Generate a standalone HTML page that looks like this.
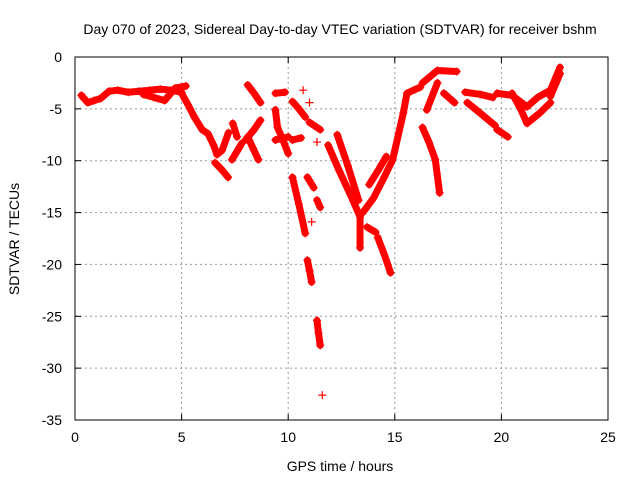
<!DOCTYPE html>
<html><head><meta charset="utf-8"><style>
body{margin:0;background:#fff}
svg{display:block;font-family:"Liberation Sans",sans-serif}
</style></head><body>
<svg id="chart" width="640" height="480">
<text x="340" y="34" text-anchor="middle" font-size="14">Day 070 of 2023, Sidereal Day-to-day VTEC variation (SDTVAR) for receiver bshm</text>
<text x="340" y="471" text-anchor="middle" font-size="14">GPS time / hours</text>
<text transform="translate(19,239) rotate(-90)" text-anchor="middle" font-size="14">SDTVAR / TECUs</text>
<g id="grid"></g>
<g id="ticks"></g>
<g id="marks"></g>
<rect x="75" y="57" width="533" height="363" fill="none" stroke="#000"/>
</svg>
<script>
const xTicks=[0,5,10,15,20,25];
const yTicks=[0,-5,-10,-15,-20,-25,-30,-35];
const trackHours=[
[0.3,0.6,0.9,1.2,1.6,2.0,2.5,3.0,3.5,4.0,4.5,5.0],
[3.2,3.7,4.2,4.7,5.2],
[5.0,5.3,5.6,5.96,6.24,6.5,6.66,6.9,7.2],
[6.57,6.9,7.18],
[7.36,7.6,7.83],
[7.4,7.6],
[8.1,8.35,8.6],
[8.7,8.4,8.0],
[8.1,8.4,8.7],
[9.4,9.85],
[9.4,9.5,9.75,10.0],
[9.4,10.0],
[10.2,10.5,10.8],
[10.9,11.0,11.1],
[11.35,11.42,11.5],
[11.6],
[10.9,11.2],[11.35,11.5],[11.1],
[10.7],[11.0],
[10.2,10.5,10.8],[11.0,11.5],[10.2,10.6],[11.35],
[11.87,12.4,12.9,13.37,13.37],
[12.3,12.8,13.3],
[13.5,14.0,14.5,14.9,15.4,15.57,16.2],
[13.8,14.2,14.6],
[13.7,14.1],
[14.2,14.5,14.8],
[16.3,17.0,17.9],
[16.5,17.0],
[17.3,17.8],
[16.3,16.6,16.9,17.1],
[18.3,19.0,19.6],
[18.4,19.0,19.7],
[19.8,20.3],
[19.8,20.5,21.2,21.7,22.3,22.75],
[20.5,20.9,21.2,21.8,22.3],
[22.75,22.3]
];
const trackValues=[
[-3.7,-4.4,-4.2,-4.0,-3.3,-3.2,-3.4,-3.3,-3.2,-3.1,-3.2,-3.4],
[-3.6,-3.9,-4.2,-3.0,-2.8],
[-3.5,-4.6,-5.8,-7.0,-7.4,-8.5,-9.4,-9.0,-7.3],
[-10.2,-10.9,-11.6],
[-9.9,-9.1,-8.3],
[-6.4,-7.7],
[-7.7,-8.8,-9.9],
[-6.1,-7.0,-8.0],
[-2.7,-3.5,-4.4],
[-3.5,-3.4],
[-5.1,-6.8,-8.0,-9.3],
[-8.0,-7.7],
[-11.6,-14.2,-17.0],
[-19.6,-20.6,-21.7],
[-25.4,-26.6,-27.8],
[-32.6],
[-11.6,-12.6],[-13.8,-14.5],[-15.9],
[-3.2],[-4.4],
[-4.3,-5.0,-5.8],[-6.3,-7.0],[-8.0,-7.8],[-8.2],
[-8.5,-11.0,-13.2,-15.4,-18.4],
[-7.5,-10.5,-13.8],
[-15.0,-13.6,-11.6,-9.9,-5.4,-3.5,-2.9],
[-12.3,-11.0,-9.6],
[-16.4,-16.9],
[-17.4,-19.0,-20.8],
[-2.5,-1.3,-1.4],
[-5.1,-2.5],
[-3.5,-4.4],
[-6.8,-8.2,-9.9,-13.1],
[-3.4,-3.6,-3.9],
[-4.4,-5.4,-6.6],
[-7.0,-7.7],
[-3.5,-3.7,-4.8,-3.9,-3.2,-1.0],
[-3.5,-5.0,-6.4,-5.4,-4.4],
[-1.6,-3.8]
];
const L=75,R=608,T=57,B=420;
const xs=h=>L+(h/25)*(R-L);
const ys=v=>T+(-v/35)*(B-T);
const NS="http://www.w3.org/2000/svg";
const grid=document.getElementById('grid'),ticks=document.getElementById('ticks'),marks=document.getElementById('marks');
function mk(tag,attrs,parent){const e=document.createElementNS(NS,tag);for(const k in attrs)e.setAttribute(k,attrs[k]);parent.appendChild(e);return e;}
xTicks.forEach(t=>{const x=xs(t);
 if(t>0&&t<25){const g=mk('line',{x1:x,x2:x,y1:T,y2:B,stroke:'#999','stroke-dasharray':'2,3'},grid);
 
 }
 mk('line',{x1:x,x2:x,y1:B,y2:B-6,stroke:'#000'},ticks);mk('line',{x1:x,x2:x,y1:T,y2:T+6,stroke:'#000'},ticks);
 const l=mk('text',{x:x,y:442,'text-anchor':'middle','font-size':'14'},ticks);l.textContent=t;
 
 
});
yTicks.forEach(t=>{const y=ys(t);
 if(t<0&&t>-35){const g=mk('line',{x1:L,x2:R,y1:y,y2:y,stroke:'#999','stroke-dasharray':'2,3'},grid);
 
 }
 mk('line',{x1:L,x2:L+6,y1:y,y2:y,stroke:'#000'},ticks);mk('line',{x1:R,x2:R-6,y1:y,y2:y,stroke:'#000'},ticks);
 const l=mk('text',{x:62,y:y+5,'text-anchor':'end','font-size':'14'},ticks);l.textContent=t;
 
 
});
trackHours.forEach((hs,i)=>{const vs=trackValues[i];
 const pts=hs.map((h,j)=>xs(h)+','+ys(vs[j])).join(' ');
 if(hs.length>1){const p=mk('polyline',{points:pts,fill:'none',stroke:'#f00','stroke-width':7,'stroke-linejoin':'round','stroke-linecap':'round'},marks);
 
 }
 hs.forEach((h,j)=>{const x=xs(h),y=ys(vs[j]);
  const m=mk('path',{d:`M${x-4},${y}H${x+4}M${x},${y-4}V${y+4}`,stroke:'#f00','stroke-width':1.2},marks);
  
  
 });
});
</script>
</body></html>
